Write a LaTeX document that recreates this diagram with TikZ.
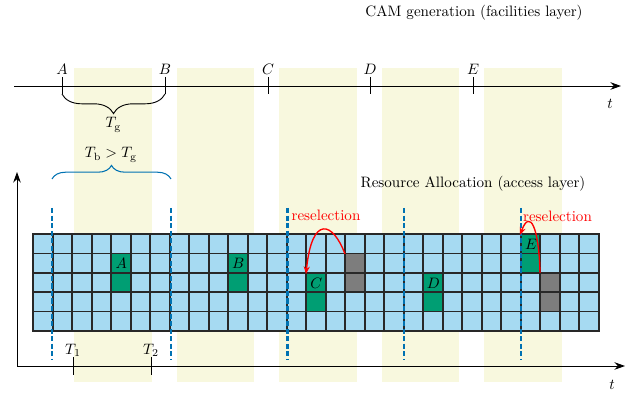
\documentclass[tikz,border=0pt]{standalone}
\usetikzlibrary{arrows.meta,decorations.pathreplacing}
\definecolor{bandyellow}{RGB}{248,248,222}
\definecolor{cellblue}{RGB}{166,218,242}
\definecolor{cellteal}{RGB}{0,158,115}
\definecolor{cellgrey}{RGB}{125,125,125}
\definecolor{dashblue}{RGB}{0,114,178}
\definecolor{gridline}{RGB}{40,40,40}
\begin{document}
\begin{tikzpicture}[x=0.663pt,y=-0.663pt,
  band/.style={fill=bandyellow,draw=none},
  cell/.style={fill=cellblue,draw=gridline,line width=1.1pt},
  teal/.style={fill=cellteal,draw=gridline,line width=1.1pt},
  grey/.style={fill=cellgrey,draw=gridline,line width=1.1pt},
  axis/.style={line width=0.6pt,-{Stealth[length=7pt,width=5pt]}},
  tick/.style={line width=0.6pt},
  slotline/.style={draw=dashblue,line width=1.4pt,dash pattern=on 3.4pt off 1.6pt},
  resel/.style={draw=red,line width=0.9pt,-{Stealth[length=5pt,width=4pt]}},
  lbl/.style={inner sep=1pt}]
\useasboundingbox (0,0) rectangle (635,395);
% yellow bands
\foreach \i in {0,...,4}{
  \fill[band] (74+102.5*\i,68) rectangle (151.7+102.5*\i,381.7);
}
% titles
\node[lbl] (camtitle) at (474,13) {CAM generation (facilities layer)};
\node[lbl] (ratitle) at (473,184) {Resource Allocation (access layer)};
% top axis
\coordinate (topstart) at (14,86);
\coordinate (topend) at (621,86);
\draw[axis] (topstart) -- (topend);
\node[lbl] (tlabel1) at (610,104) {$t$};
\foreach \n/\x in {A/62,B/165,C/268,D/370,E/473}{
  \coordinate (tk\n top) at (\x,77);
  \coordinate (tk\n bot) at (\x,94);
  \draw[tick] (tk\n top) -- (tk\n bot);
  \node[lbl] (lab\n) at (\x,69) {$\n$};
}
\draw[line width=0.6pt,decorate,decoration={brace,mirror,amplitude=13pt}] (tkAbot) -- (tkBbot);
\node[lbl] (Tg) at (113.5,125) {$T_{\mathrm{g}}$};
\node[lbl] (TbTg) at (111,155) {$T_{\mathrm{b}} > T_{\mathrm{g}}$};
\coordinate (bbl) at (52,179);
\coordinate (bbr) at (171,179);
\draw[dashblue,line width=0.7pt,decorate,decoration={brace,amplitude=9pt}] (bbl) -- (bbr);
% grid
\foreach \i in {0,...,28}{
  \foreach \j in {0,...,4}{
    \draw[cell] (33.3+19.5*\i,234+19.4*\j) rectangle ++(19.5,19.4);
  }
}
% allocated cells: column / row
\foreach \c/\r in {4/1,4/2,10/1,10/2,14/2,14/3,20/2,20/3,25/0,25/1}{
  \draw[teal] (33.3+19.5*\c,234+19.4*\r) rectangle ++(19.5,19.4);
}
\foreach \c/\r in {16/1,16/2,26/2,26/3}{
  \draw[grey] (33.3+19.5*\c,234+19.4*\r) rectangle ++(19.5,19.4);
}
\node[lbl] (cA) at (121.3,263.5) {$A$};
\node[lbl] (cB) at (238.3,263.5) {$B$};
\node[lbl] (cC) at (316.3,283) {$C$};
\node[lbl] (cD) at (433.3,283) {$D$};
\node[lbl] (cE) at (531,244) {$E$};
% slot boundaries
\foreach \x [count=\k] in {52,171,287.5,404,521}{
  \coordinate (sl\k a) at (\x,208);
  \coordinate (sl\k b) at (\x,360);
  \draw[slotline] (sl\k a) -- (sl\k b);
}
% lower axes
\coordinate (origin) at (17,366);
\coordinate (yend) at (17,172);
\coordinate (xend) at (625,366);
\draw[axis] (origin) -- (yend);
\draw[axis] (origin) -- (xend);
\node[lbl] (tlabel2) at (612,385) {$t$};
\foreach \n/\x in {1/73,2/151}{
  \coordinate (Tt\n) at (\x,357);
  \coordinate (Tb\n) at (\x,375);
  \draw[tick] (Tt\n) -- (Tb\n);
  \node[lbl] (Tl\n) at (\x,350) {$T_{\n}$};
}
% reselections
\coordinate (r1s) at (345,254);
\coordinate (r1e) at (306,274);
\draw[resel] (r1s) .. controls (333,222) and (312,214) .. (r1e);
\node[lbl,text=red] (rs1) at (326,215) {reselection};
\coordinate (r2s) at (540,273);
\coordinate (r2e) at (520,235);
\draw[resel] (r2s) .. controls (539,228) and (530,208) .. (r2e);
\node[lbl,text=red] (rs2) at (557.5,216) {reselection};
\end{tikzpicture}
\end{document}
